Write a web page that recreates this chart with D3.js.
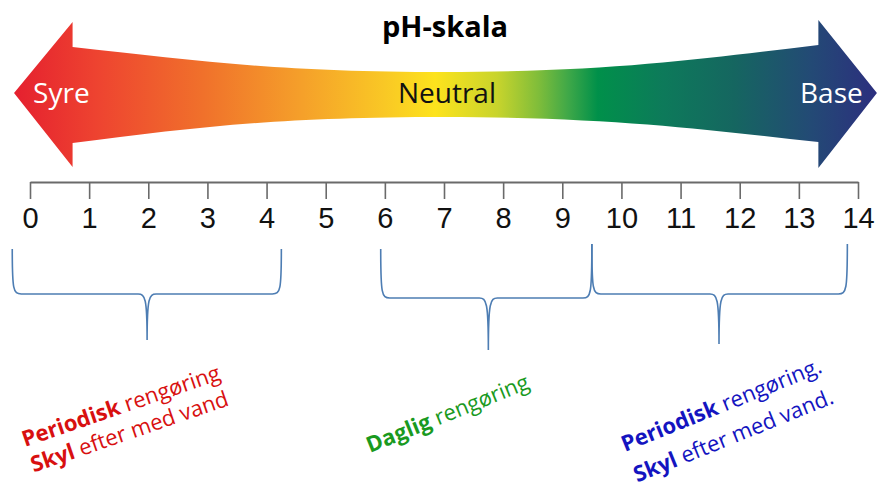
<!DOCTYPE html>
<html><head><meta charset="utf-8">
<script src="https://cdn.jsdelivr.net/npm/d3@7"></script>
<style>html,body{margin:0;padding:0;background:#fff;} svg{display:block;}</style>
</head><body>
<script>
// ---- data ----
const title = "pH-skala";
const tickValues = [0,1,2,3,4,5,6,7,8,9,10,11,12,13,14];
const arrowLabels = ["Syre", "Neutral", "Base"];
const arrowLabelPH = [0.53, 7.05, 13.55];
// brace ranges in pH units
const braceFrom = [-0.3, 5.93, 9.5];
const braceTo   = [4.25, 9.5, 13.82];
const braceMid  = [1.98, 7.75, 11.65];
// gradient colour stops (pH position, colour)
const gradPH = [-0.27, 1.2, 2.9, 4.6, 6.0, 6.85, 7.9, 8.6, 9.1, 9.6, 10.7, 11.9, 13.2, 14.3];
const gradColors = ["#e5202f","#ee4530","#f0702b","#f5a02a","#f9c825","#fde31d","#c8d42c","#7fbd3a","#3fa848","#00904a","#0d7a5a","#156660","#234a75","#2c2f7e"];
// usage labels
const usageBold = [["Periodisk","Skyl"],["Daglig"],["Periodisk","Skyl"]];
const usageRest = [[" rengøring"," efter med vand"],[" rengøring"],[" rengøring."," efter med vand."]];
const usageColors = ["#d81010","#1a9a1f","#1414c0"];

// ---- layout ----
const W = 879, H = 490;
const svg = d3.select("body").append("svg").attr("width", W).attr("height", H);
const x = d3.scaleLinear().domain([0, 14]).range([30, 858]);
const axisY = 182;

// title
svg.append("text").attr("x", 445).attr("y", 37).attr("text-anchor","middle")
  .attr("font-family","Open Sans").attr("font-weight","bold").attr("font-size",29)
  .attr("fill","#000").text(title);

// gradient
const defs = svg.append("defs");
const gx0 = x(gradPH[0]), gx1 = x(gradPH[gradPH.length-1]);
const lg = defs.append("linearGradient").attr("id","phg").attr("gradientUnits","userSpaceOnUse")
  .attr("x1", gx0).attr("x2", gx1).attr("y1",0).attr("y2",0);
gradPH.forEach((p,i)=>{
  lg.append("stop").attr("offset", (x(p)-gx0)/(gx1-gx0)).attr("stop-color", gradColors[i]);
});

// double arrow
const L = x(-0.27), R = x(14.32), hl = x(0.72), hr = x(13.33), c = x(7), cy = 94;
const p = d3.path();
p.moveTo(L, cy-1);
p.lineTo(hl, 22); p.lineTo(hl, 47);
p.bezierCurveTo(hl+120, 60, c-170, 72, c, 72);
p.bezierCurveTo(c+170, 72, hr-110, 58, hr, 45);
p.lineTo(hr, 20); p.lineTo(R, cy-1); p.lineTo(hr, 168); p.lineTo(hr, 142);
p.bezierCurveTo(hr-110, 130, c+170, 117, c, 117);
p.bezierCurveTo(c-170, 117, hl+120, 128, hl, 143);
p.lineTo(hl, 167); p.closePath();
svg.append("path").attr("d", p.toString()).attr("fill","url(#phg)");

svg.selectAll("text.al").data(arrowLabels).enter().append("text").attr("class","al")
  .attr("x",(d,i)=>x(arrowLabelPH[i])).attr("y",103).attr("text-anchor","middle")
  .attr("font-family","Open Sans").attr("font-size",28)
  .attr("fill",(d,i)=> i===1 ? "#111" : "#fff").text(d=>d);

// axis
const axis = d3.axisBottom(x).tickValues(tickValues).tickSize(17).tickSizeOuter(0).tickFormat(d3.format("d"));
const g = svg.append("g").attr("transform",`translate(0,${axisY})`).call(axis);
g.select(".domain").attr("stroke","#6a6a6a").attr("stroke-width",2);
g.selectAll(".tick line").attr("stroke","#6a6a6a").attr("stroke-width",1.6);
g.selectAll(".tick text").attr("dy",null).attr("y",46)
  .attr("font-family","Liberation Sans, Arial, sans-serif").attr("font-size",29).attr("fill","#111");

// braces
const braceTop = [[249,249],[249,244],[244,244]];
const braceH = [294, 298, 294];
const braceTip = [340, 350, 344];
braceFrom.forEach((f,i)=>{
  const x1 = x(f), x2 = x(braceTo[i]), xm = x(braceMid[i]);
  const y0a = braceTop[i][0], y0b = braceTop[i][1], yh = braceH[i], yt = braceTip[i];
  const r = 9;
  const bp = d3.path();
  bp.moveTo(x1, y0a);
  bp.bezierCurveTo(x1, yh-4, x1+1, yh, x1+r, yh);
  bp.lineTo(xm-r, yh);
  bp.bezierCurveTo(xm-2, yh, xm, yh+4, xm, yt);
  bp.moveTo(xm, yt);
  bp.bezierCurveTo(xm, yh+4, xm+2, yh, xm+r, yh);
  bp.lineTo(x2-r, yh);
  bp.bezierCurveTo(x2-1, yh, x2, yh-4, x2, y0b);
  svg.append("path").attr("d", bp.toString()).attr("fill","none")
    .attr("stroke","#4d7db3").attr("stroke-width",1.6);
});

// usage labels
const usageAnchor = [[25,447],[370,453],[625,452]];
const usageAngle = [-19,-22,-22];
const usageLH = [27, 0, 33];
usageBold.forEach((lines,i)=>{
  const t = svg.append("g").attr("transform",`translate(${usageAnchor[i][0]},${usageAnchor[i][1]}) rotate(${usageAngle[i]})`);
  lines.forEach((b,j)=>{
    const tx = t.append("text").attr("x",0).attr("y", j*usageLH[i])
      .attr("font-family","Open Sans").attr("font-size",22).attr("fill",usageColors[i]);
    tx.append("tspan").attr("font-weight","bold").text(b);
    tx.append("tspan").text(usageRest[i][j]);
  });
});
</script>
</body></html>
